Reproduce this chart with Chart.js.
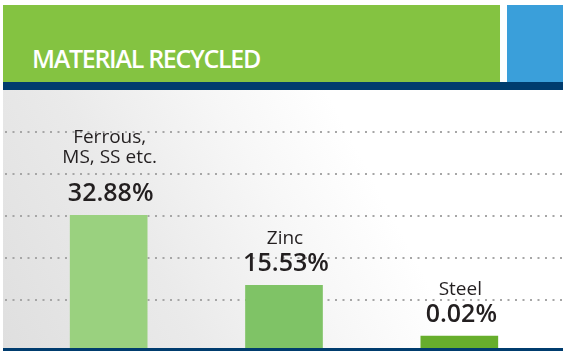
<!DOCTYPE html>
<html>
<head>
<meta charset="utf-8">
<script src="https://cdn.jsdelivr.net/npm/chart.js@4.4.1/dist/chart.umd.min.js"></script>
<style>
  html, body { margin: 0; padding: 0; background: #fff; }
  #wrap { position: relative; width: 563px; height: 351px; overflow: hidden; background: #fff; font-family: "Open Sans", sans-serif; }
  #band { position: absolute; left: 3px; top: 5px; width: 497px; height: 77px; background: #84c341; }
  #box { position: absolute; left: 507px; top: 5px; width: 56px; height: 77px; background: #3a9fda; }
  #rule { position: absolute; left: 3px; top: 82px; width: 560px; height: 8px; background: #003c6e; }
  #plot { position: absolute; left: 3px; top: 90px; width: 560px; height: 258px;
          background: linear-gradient(62deg, #dfdfdf 0%, #eaeaea 28%, #f7f7f7 50%, #ffffff 66%); }
  #base { position: absolute; left: 3px; top: 348px; width: 560px; height: 3px; background: #003c6e; }
  #title { position: absolute; left: 32px; top: 46px; color: #fff; font-size: 25px; line-height: 25px;
           letter-spacing: -1.3px; font-weight: 600; white-space: nowrap; }
  #cv { position: absolute; left: 0; top: 90px; }
</style>
</head>
<body>
<div id="wrap">
  <div id="band"></div>
  <div id="box"></div>
  <div id="title">MATERIAL RECYCLED</div>
  <div id="rule"></div>
  <div id="plot"></div>
  <canvas id="cv" width="563" height="258"></canvas>
  <div id="base"></div>
</div>
<script>
// Material categories (multi-line names) and their recycled share, in percent
const categories = [["Ferrous,", "MS, SS etc."], ["Zinc"], ["Steel"]];
const shares = [32.88, 15.53, 0.02];
const barColors = ["#9ad17f", "#7fc366", "#67ae2c"];

const valueText = v => v.toFixed(2) + "%";

// Dotted horizontal guides running across the whole panel
const dottedGrid = {
  id: "dottedGrid",
  beforeDatasetsDraw(chart) {
    const s = chart.scales.guide;
    const c = chart.ctx;
    c.save();
    c.strokeStyle = "#a6a6a6";
    c.lineWidth = 2;
    c.setLineDash([2, 5.5]);
    for (let k = 1; k <= 5; k++) {
      const y = Math.round(s.getPixelForValue(k));
      c.beginPath();
      c.moveTo(5, y);
      c.lineTo(563, y);
      c.stroke();
    }
    c.restore();
  }
};

// Category name and percentage stacked above each bar
const barLabels = {
  id: "barLabels",
  afterDatasetsDraw(chart) {
    const c = chart.ctx;
    const meta = chart.getDatasetMeta(0);
    c.save();
    c.fillStyle = "#231f20";
    c.textAlign = "center";
    c.textBaseline = "alphabetic";
    meta.data.forEach((bar, i) => {
      const x = bar.x;
      const vy = bar.y - 14;
      c.font = '600 25px "Open Sans"';
      c.fillText(valueText(shares[i]), x + 2, vy);
      c.font = '19px "Open Sans"';
      const lines = categories[i];
      const gap = lines.length > 1 ? 38 : 27;
      lines.slice().reverse().forEach((ln, j) => c.fillText(ln, x + 1, vy - gap - j * 20));
    });
    c.restore();
  }
};

new Chart(document.getElementById("cv"), {
  type: "bar",
  data: {
    labels: categories,
    datasets: [{
      data: shares,
      backgroundColor: barColors,
      borderWidth: 0,
      barThickness: 77,
      minBarLength: 12
    }]
  },
  options: {
    responsive: false,
    animation: false,
    layout: { padding: { left: 21, right: 16, top: 0, bottom: 0 } },
    plugins: { legend: { display: false }, tooltip: { enabled: false } },
    scales: {
      x: { display: false, offset: true },
      y: { display: false, min: 0, max: 64 },
      guide: { type: "linear", axis: "y", display: false, min: 0, max: 6.15, reverse: true }
    }
  },
  plugins: [dottedGrid, barLabels]
});
</script>
</body>
</html>
